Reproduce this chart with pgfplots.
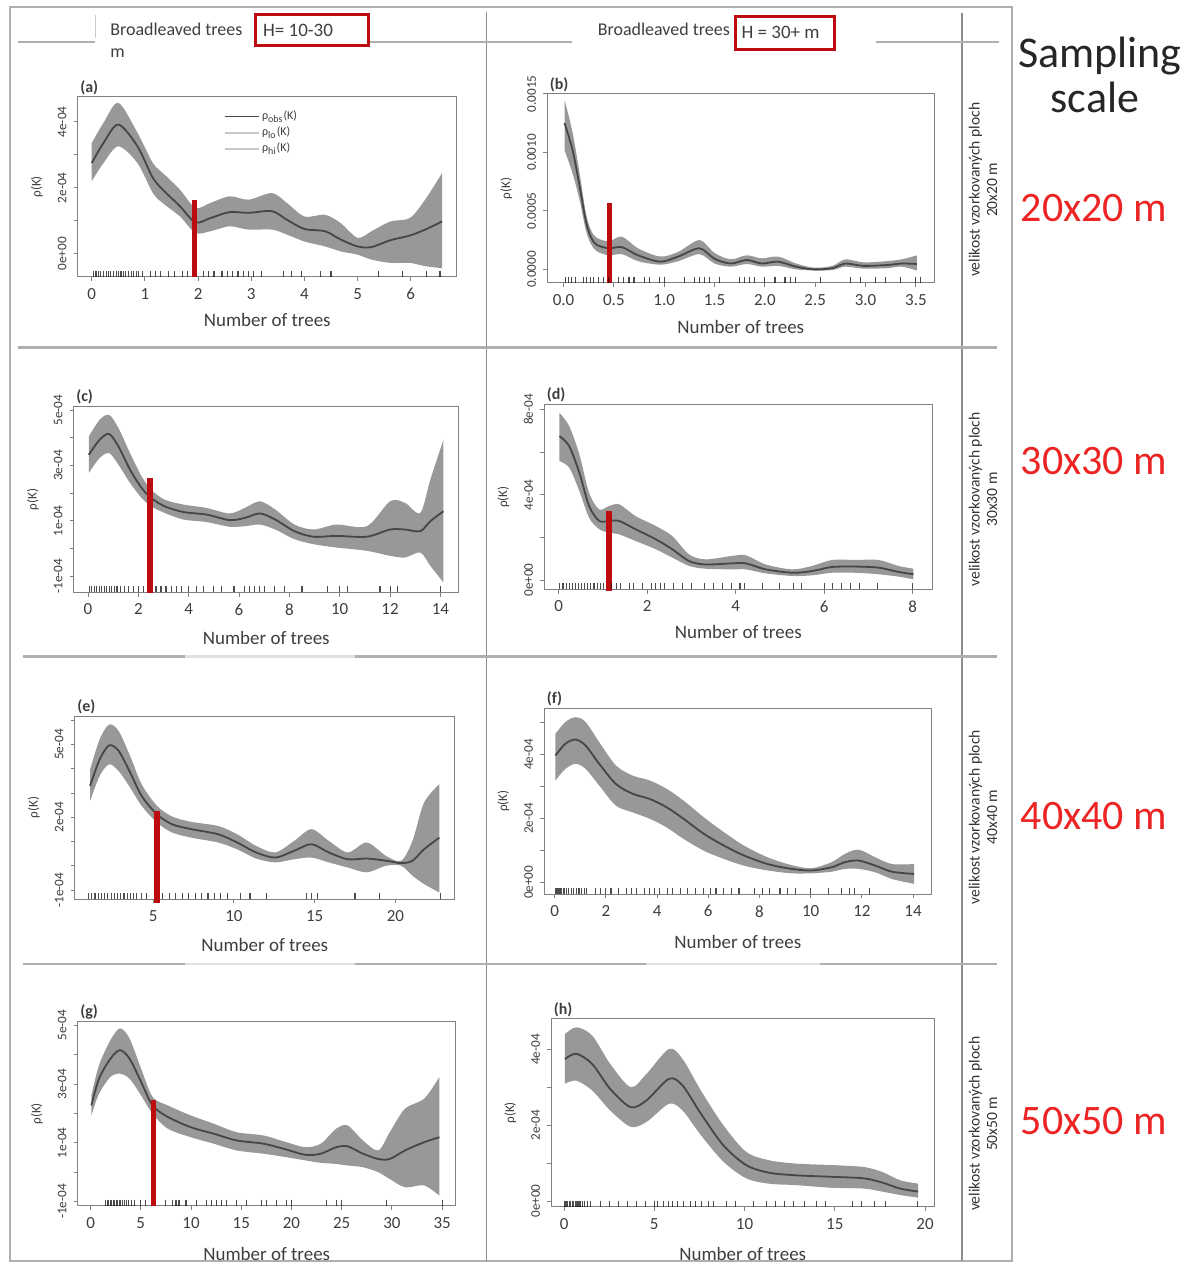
\documentclass[border=0pt]{standalone}
\usepackage{fontspec}
\setmainfont{Carlito}
\usepackage{pgfplots}
\pgfplotsset{compat=1.18}
\usepackage{pgfplotstable}
\usepgfplotslibrary{fillbetween}

\definecolor{band}{RGB}{152,152,152}
\definecolor{curve}{RGB}{70,70,70}
\definecolor{cutoff}{RGB}{188,12,16}
\definecolor{sep}{RGB}{175,175,175}
\definecolor{ink}{RGB}{62,62,62}
\definecolor{scalered}{RGB}{236,36,36}

\pgfplotsset{
  panel/.style={
    scale only axis, anchor=north west, clip=false,
    axis line style={draw=black!50, line width=0.5pt},
    tick style={draw=black!50, line width=0.45pt},
    tick align=outside, major tick length=2.2pt,
    xtick pos=bottom, ytick pos=left,
    /pgf/number format/assume math mode=true,
    xticklabel style={font=\fontsize{8.5}{9}\selectfont, text=ink},
    yticklabel style={font=\fontsize{6.6}{7}\selectfont, text=ink, rotate=90, anchor=south},
    xlabel={Number of trees}, ylabel={ρ(K)},
    xlabel style={font=\fontsize{9.5}{10}\selectfont, text=ink, anchor=center},
    ylabel style={font=\fontsize{6.6}{7}\selectfont, text=ink, anchor=center,
      at={([xshift=-20.5pt]rel axis cs:0,0.5)}},
  },
  bandfill/.style={fill=band, draw=none, forget plot},
  obs/.style={curve, line width=0.9pt, smooth, forget plot},
  edge/.style={draw=none, smooth, forget plot},
  cut/.style={cutoff, line width=2.6pt, forget plot},
  rug/.style={only marks, mark=|, mark size=1.5pt, forget plot,
    mark options={line width=0.55pt, draw=black, opacity=0.7}},
}

% panel data: x, observed, upper, lower (values in 1e-04)
\pgfplotstableread{
x c u l
0.00 2.75 3.36 2.20
0.22 3.36 3.97 2.75
0.50 3.92 4.58 3.26
0.86 3.26 3.67 2.75
1.15 2.30 2.75 1.84
1.37 1.89 2.40 1.49
1.66 1.44 1.94 1.13
1.95 0.95 1.39 0.63
2.23 1.08 1.54 0.68
2.59 1.26 1.74 0.83
2.95 1.24 1.64 0.73
3.39 1.29 1.84 0.73
3.67 1.03 1.54 0.58
4.00 0.75 1.13 0.37
4.39 0.68 1.18 0.22
4.68 0.43 0.93 0.07
5.00 0.22 0.48 -0.03
5.26 0.20 0.68 -0.18
5.62 0.41 0.98 -0.28
5.98 0.55 1.08 -0.28
6.27 0.73 1.64 -0.38
6.59 0.98 2.45 -0.44
}\tA
\pgfplotstableread{
x c u l
0.01 12.5 14.5 10.2
0.09 10.2 11.7 8.2
0.16 7.1 8.2 5.9
0.22 4.2 4.9 3.4
0.27 2.8 3.4 2.2
0.33 2.1 2.7 1.55
0.45 1.8 2.4 1.2
0.58 1.9 2.8 1.3
0.74 1.2 1.8 0.7
0.96 0.66 1.1 0.4
1.14 1.1 1.5 0.7
1.35 1.8 2.5 1.3
1.50 0.9 1.4 0.5
1.66 0.5 0.86 0.23
1.82 0.8 1.2 0.46
1.97 0.5 0.94 0.23
2.13 0.66 1.1 0.3
2.31 0.23 0.5 0.0
2.49 0.0 0.14 -0.1
2.67 0.1 0.3 -0.06
2.80 0.5 0.86 0.23
2.98 0.3 0.6 0.06
3.21 0.37 0.7 0.1
3.36 0.5 0.86 0.23
3.51 0.46 1.2 -0.1
}\tB
\pgfplotstableread{
x c u l
0.03 3.39 4.05 2.73
0.46 3.93 4.65 3.27
0.84 4.14 4.83 3.45
1.21 3.69 4.35 3.03
1.67 2.85 3.45 2.37
2.13 2.19 2.61 1.83
2.51 1.83 2.13 1.53
3.04 1.53 1.77 1.29
3.80 1.32 1.59 1.05
4.71 1.23 1.47 0.96
5.62 1.03 1.27 0.79
6.23 1.11 1.47 0.81
6.83 1.27 1.71 0.87
7.44 1.05 1.41 0.69
8.20 0.63 0.87 0.34
8.96 0.43 0.69 0.16
9.87 0.46 0.87 0.04
11.08 0.43 0.81 -0.08
12.00 0.69 1.71 -0.26
12.60 0.69 1.65 -0.32
13.20 0.63 1.29 -0.14
13.60 0.99 2.49 -0.62
14.12 1.35 3.93 -1.22
}\tC
\pgfplotstableread{
x c u l
0.02 6.75 7.84 5.58
0.24 6.28 7.22 5.27
0.47 5.03 5.89 4.17
0.69 3.47 4.09 2.92
0.92 2.77 3.31 2.38
1.14 2.77 3.47 2.22
1.37 2.77 3.55 2.14
1.74 2.38 3.00 1.83
2.20 1.91 2.53 1.44
2.57 1.44 2.06 1.05
2.95 0.89 1.20 0.66
3.32 0.73 0.97 0.53
3.92 0.78 1.13 0.50
4.23 0.78 1.16 0.50
4.68 0.50 0.73 0.31
5.28 0.34 0.50 0.19
5.73 0.42 0.66 0.22
6.18 0.61 0.94 0.34
6.71 0.63 0.94 0.34
7.23 0.58 0.94 0.27
7.68 0.38 0.66 0.16
8.02 0.27 0.53 0.03
}\tD
\pgfplotstableread{
x c u l
1.10 3.29 3.97 2.67
1.69 4.38 5.21 3.70
2.28 4.96 5.82 4.18
2.87 4.73 5.55 3.90
3.58 3.84 4.52 3.22
4.29 2.88 3.36 2.47
5.24 2.12 2.47 1.78
6.18 1.71 2.03 1.37
7.36 1.51 1.81 1.16
9.02 1.30 1.64 0.96
10.20 0.96 1.30 0.68
11.38 0.55 0.82 0.30
12.56 0.34 0.55 0.14
13.74 0.62 1.03 0.27
14.80 0.89 1.51 0.34
15.87 0.55 1.03 0.14
17.05 0.27 0.55 -0.07
18.23 0.30 0.96 -0.27
19.41 0.21 0.41 0.00
20.36 0.11 0.21 0.00
21.06 0.21 1.03 -0.41
21.77 0.68 2.60 -0.75
22.72 1.16 3.36 -1.10
}\tE
\pgfplotstableread{
x c u l
0.03 3.97 4.65 3.19
0.42 4.34 5.02 3.55
0.82 4.47 5.17 3.71
1.21 4.28 5.02 3.55
1.74 3.71 4.39 3.03
2.39 3.08 3.66 2.40
3.05 2.77 3.34 2.19
3.71 2.61 3.19 1.99
4.37 2.35 2.93 1.72
5.03 1.99 2.56 1.36
5.82 1.52 2.04 0.99
6.61 1.15 1.57 0.73
7.39 0.84 1.15 0.52
8.32 0.57 0.78 0.37
9.24 0.42 0.54 0.28
10.03 0.37 0.44 0.28
10.82 0.47 0.63 0.33
11.34 0.63 0.89 0.42
11.87 0.68 1.02 0.42
12.53 0.52 0.78 0.31
13.18 0.33 0.57 0.10
14.04 0.26 0.57 -0.05
}\tF
\pgfplotstableread{
x c u l
0.08 2.27 2.61 1.93
0.84 3.18 3.64 2.67
1.98 3.86 4.49 3.24
2.93 4.15 4.89 3.35
3.88 3.86 4.55 3.18
5.03 3.07 3.52 2.61
6.17 2.27 2.56 1.99
7.69 1.88 2.27 1.48
9.98 1.53 1.93 1.19
12.26 1.31 1.65 0.97
14.55 1.08 1.36 0.74
17.21 0.97 1.25 0.63
19.50 0.77 1.02 0.51
21.40 0.59 0.85 0.40
22.92 0.63 0.97 0.32
24.45 0.85 1.48 0.28
25.59 0.88 1.59 0.23
27.11 0.63 1.08 0.17
28.64 0.45 0.74 0.00
29.78 0.45 1.36 -0.23
31.30 0.74 2.16 -0.51
33.21 1.02 2.50 -0.45
34.73 1.19 3.24 -0.80
}\tG
\pgfplotstableread{
x c u l
0.05 3.75 4.41 3.10
0.68 3.89 4.59 3.18
1.56 3.62 4.37 2.92
2.56 2.96 3.62 2.39
3.69 2.48 3.01 1.96
4.57 2.66 3.36 2.09
5.82 3.23 4.02 2.57
6.57 3.05 3.75 2.39
7.58 2.31 2.92 1.74
8.83 1.47 2.00 1.04
10.09 0.95 1.30 0.60
11.34 0.75 1.08 0.46
12.85 0.68 0.99 0.42
14.86 0.64 0.95 0.35
16.61 0.60 0.90 0.33
17.62 0.49 0.77 0.25
18.62 0.33 0.55 0.16
19.62 0.25 0.46 0.09
}\tH

\begin{document}
\begin{tikzpicture}
\begin{scope}[x=0.5pt,y=-0.5pt]
\path[use as bounding box] (0,0) rectangle (1186,1267);
% outer frame and dividers
\draw[sep, line width=1pt] (10,7) rectangle (1013,1262);
\draw[black!45, line width=0.7pt] (487,12) -- (487,1262);
\draw[black!45, line width=0.7pt] (963,13) -- (963,1262);
\draw[sep, line width=1.4pt] (18,42) -- (95,42);
\draw[sep, line width=1.4pt] (370,42) -- (573,42);
\draw[sep, line width=1.4pt] (877,42) -- (1000,42);
\draw[black!20, line width=0.6pt] (96,15) -- (96,38);
\draw[sep, line width=1.4pt] (18,348) -- (998,348);
\draw[sep, line width=1.4pt] (23,657) -- (185,657);
\draw[black!12, line width=1.2pt] (185,657) -- (355,657);
\draw[sep, line width=1.4pt] (355,657) -- (998,657);
\draw[sep, line width=1.4pt] (23,965) -- (185,965);
\draw[black!12, line width=1.2pt] (185,965) -- (355,965);
\draw[sep, line width=1.4pt] (355,965) -- (647,965);
\draw[black!12, line width=1.2pt] (647,965) -- (821,965);
\draw[sep, line width=1.4pt] (821,965) -- (998,965);
% column headers
\node[anchor=west, font=\fontsize{9}{10}\selectfont, text=ink, inner sep=0pt] at (110,29) {Broadleaved trees};
\draw[cutoff, line width=1.5pt] (256,15) rectangle (369,46);
\node[anchor=west, font=\fontsize{9.5}{10}\selectfont, text=ink, inner sep=0pt] at (263,30) {H= 10-30};
\node[anchor=west, font=\fontsize{9}{10}\selectfont, text=ink, inner sep=0pt] at (110,53) {m};
\node[anchor=east, font=\fontsize{9}{10}\selectfont, text=ink, inner sep=0pt] at (731,29) {Broadleaved trees};
\draw[cutoff, line width=1.5pt] (736,17) rectangle (835,50);
\node[anchor=west, font=\fontsize{9.5}{10}\selectfont, text=ink, inner sep=0pt] at (742,32) {H = 30+ m};
% sampling scale labels
\node[anchor=base, font=\fontsize{22}{23}\selectfont, text=black!85, inner sep=0pt] at (1101,68) {Sampling};
\node[anchor=base, font=\fontsize{22}{23}\selectfont, text=black!85, inner sep=0pt] at (1096,113) {scale};
\foreach \yy/\lab in {222/20x20, 475/30x30, 830/40x40, 1136/50x50}{
  \node[anchor=base, font=\fontsize{21}{22}\selectfont, text=scalered, inner sep=0pt] at (1095,\yy) {\lab{} m};
  }
\foreach \yy/\lab in {190/20x20, 500/30x30, 818/40x40, 1125/50x50}{
  \node[rotate=90, align=center, font=\fontsize{7.8}{8.8}\selectfont, text=black!80, inner sep=0pt] at (984,\yy) {velikost vzorkovaných ploch\\\lab{} m};
  }
\end{scope}

% (a)
\begin{axis}[panel, at={(39pt,-48.5pt)}, width=189.5pt, height=90pt,
  xmin=-0.26, xmax=6.86, ymin=-0.70, ymax=4.76,
  xtick={0,1,2,3,4,5,6},
  ytick={0,1,2,3,4}, yticklabels={0e+00,,2e-04,,4e-04},
  xlabel style={at={([yshift=-21.5pt]rel axis cs:0.5,0)}},
  legend style={draw=none, fill=none, at={(0.37,0.96)}, anchor=north west,
    font=\fontsize{6}{6.5}\selectfont, text=ink, row sep=0.3pt,
    nodes={inner sep=1pt}},
  legend cell align=left]
\addplot[edge, name path=ua] table[x=x, y=u] {\tA};
\addplot[edge, name path=la] table[x=x, y=l] {\tA};
\addplot[bandfill] fill between[of=ua and la];
\addplot[obs] table[x=x, y=c] {\tA};
\addplot[cut] coordinates {(1.94,-0.72) (1.94,1.64)};
\addplot[rug] coordinates {
(0.03,-0.61) (0.08,-0.61) (0.12,-0.61) (0.17,-0.61) (0.22,-0.61) (0.27,-0.61)
(0.31,-0.61) (0.36,-0.61) (0.41,-0.61) (0.46,-0.61) (0.5,-0.61) (0.55,-0.61)
(0.6,-0.61) (0.64,-0.61) (0.69,-0.61) (0.74,-0.61) (0.79,-0.61) (0.84,-0.61)
(0.88,-0.61) (0.95,-0.61) (1.1,-0.61) (1.2,-0.61) (1.3,-0.61) (1.45,-0.61)
(1.55,-0.61) (1.7,-0.61) (1.8,-0.61) (2.1,-0.61) (2.2,-0.61) (2.3,-0.61)
(2.45,-0.61) (2.55,-0.61) (2.65,-0.61) (2.75,-0.61) (2.85,-0.61) (2.95,-0.61)
(3.05,-0.61) (3.2,-0.61) (3.6,-0.61) (3.75,-0.61) (3.95,-0.61) (4.3,-0.61)
(4.5,-0.61) (5.4,-0.61) (5.85,-0.61) (6.3,-0.61) (6.55,-0.61)};
\addlegendimage{curve, line width=0.8pt}
\addlegendentry{ρ\textsubscript{obs}(K)}
\addlegendimage{black!22, line width=0.8pt}
\addlegendentry{ρ\textsubscript{lo}(K)}
\addlegendimage{black!22, line width=0.8pt}
\addlegendentry{ρ\textsubscript{hi}(K)}
\node[anchor=south west, font=\fontsize{8}{9}\selectfont\bfseries, text=ink, inner sep=1pt] at (rel axis cs:0,1) {(a)};
\end{axis}

% (b)
\begin{axis}[panel, at={(274pt,-47pt)}, width=193.5pt, height=94.5pt,
  xmin=-0.16, xmax=3.68, ymin=-1.14, ymax=15,
  xtick={0,0.5,1,1.5,2,2.5,3,3.5},
  xticklabels={0.0,0.5,1.0,1.5,2.0,2.5,3.0,3.5},
  ytick={0,5,10,15}, yticklabels={0.0000,0.0005,0.0010,0.0015},
  xlabel style={at={([yshift=-22pt]rel axis cs:0.5,0)}}]
\addplot[edge, name path=ub] table[x=x, y=u] {\tB};
\addplot[edge, name path=lb] table[x=x, y=l] {\tB};
\addplot[bandfill] fill between[of=ub and lb];
\addplot[obs] table[x=x, y=c] {\tB};
\addplot[cut] coordinates {(0.46,-1.2) (0.46,5.7)};
\addplot[rug] coordinates {
(0.02,-0.88) (0.05,-0.88) (0.08,-0.88) (0.12,-0.88) (0.2,-0.88) (0.23,-0.88)
(0.27,-0.88) (0.3,-0.88) (0.35,-0.88) (0.4,-0.88) (0.45,-0.88) (0.55,-0.88)
(0.6,-0.88) (0.65,-0.88) (0.7,-0.88) (0.8,-0.88) (0.85,-0.88) (0.95,-0.88)
(1.0,-0.88) (1.2,-0.88) (1.3,-0.88) (1.35,-0.88) (1.4,-0.88) (1.45,-0.88)
(1.55,-0.88) (1.75,-0.88) (1.8,-0.88) (1.85,-0.88) (1.9,-0.88) (2.0,-0.88)
(2.1,-0.88) (2.2,-0.88) (2.25,-0.88) (2.3,-0.88) (2.55,-0.88) (2.85,-0.88)
(2.95,-0.88) (3.1,-0.88) (3.2,-0.88) (3.35,-0.88) (3.5,-0.88) (3.55,-0.88)};
\node[anchor=south west, font=\fontsize{8}{9}\selectfont\bfseries, text=ink, inner sep=1pt] at (rel axis cs:0,1) {(b)};
\end{axis}

% (c)
\begin{axis}[panel, at={(37pt,-203.5pt)}, width=192.5pt, height=93pt,
  xmin=-0.56, xmax=14.72, ymin=-1.58, ymax=5.13,
  xtick={0,2,4,6,8,10,12,14},
  ytick={-1,0,1,2,3,4,5}, yticklabels={-1e-04,,1e-04,,3e-04,,5e-04},
  xlabel style={at={([yshift=-23pt]rel axis cs:0.5,0)}}]
\addplot[edge, name path=uc] table[x=x, y=u] {\tC};
\addplot[edge, name path=lc] table[x=x, y=l] {\tC};
\addplot[bandfill] fill between[of=uc and lc];
\addplot[obs] table[x=x, y=c] {\tC};
\addplot[cut] coordinates {(2.46,-1.62) (2.46,2.55)};
\addplot[rug] coordinates {
(0.05,-1.47) (0.15,-1.47) (0.25,-1.47) (0.35,-1.47) (0.45,-1.47) (0.55,-1.47)
(0.65,-1.47) (0.75,-1.47) (0.85,-1.47) (0.95,-1.47) (1.05,-1.47) (1.15,-1.47)
(1.3,-1.47) (1.45,-1.47) (1.6,-1.47) (1.8,-1.47) (2.0,-1.47) (2.2,-1.47)
(2.7,-1.47) (2.9,-1.47) (3.1,-1.47) (3.3,-1.47) (3.5,-1.47) (3.7,-1.47)
(4.0,-1.47) (4.3,-1.47) (4.6,-1.47) (5.0,-1.47) (5.3,-1.47) (5.8,-1.47)
(6.2,-1.47) (6.4,-1.47) (6.6,-1.47) (6.8,-1.47) (7.0,-1.47) (7.4,-1.47)
(7.8,-1.47) (8.5,-1.47) (9.5,-1.47) (10.0,-1.47) (10.3,-1.47) (11.6,-1.47)
(12.0,-1.47) (12.3,-1.47) (14.0,-1.47)};
\node[anchor=south west, font=\fontsize{8}{9}\selectfont\bfseries, text=ink, inner sep=1pt] at (rel axis cs:0,1) {(c)};
\end{axis}

% (d)
\begin{axis}[panel, at={(272.5pt,-202.5pt)}, width=194pt, height=92.5pt,
  xmin=-0.32, xmax=8.44, ymin=-0.44, ymax=8.23,
  xtick={0,2,4,6,8},
  ytick={0,2,4,6,8}, yticklabels={0e+00,,4e-04,,8e-04},
  xlabel style={at={([yshift=-21.5pt]rel axis cs:0.5,0)}}]
\addplot[edge, name path=ud] table[x=x, y=u] {\tD};
\addplot[edge, name path=ld] table[x=x, y=l] {\tD};
\addplot[bandfill] fill between[of=ud and ld];
\addplot[obs] table[x=x, y=c] {\tD};
\addplot[cut] coordinates {(1.14,-0.5) (1.14,3.23)};
\addplot[rug] coordinates {
(0.03,-0.3) (0.1,-0.3) (0.17,-0.3) (0.24,-0.3) (0.31,-0.3) (0.38,-0.3)
(0.45,-0.3) (0.52,-0.3) (0.59,-0.3) (0.66,-0.3) (0.73,-0.3) (0.8,-0.3)
(0.87,-0.3) (0.94,-0.3) (1.01,-0.3) (1.2,-0.3) (1.3,-0.3) (1.4,-0.3)
(1.6,-0.3) (1.7,-0.3) (1.9,-0.3) (2.1,-0.3) (2.2,-0.3) (2.3,-0.3)
(2.4,-0.3) (2.6,-0.3) (2.8,-0.3) (3.0,-0.3) (3.3,-0.3) (3.5,-0.3)
(3.7,-0.3) (3.9,-0.3) (4.1,-0.3) (4.2,-0.3) (4.6,-0.3) (5.0,-0.3)
(5.3,-0.3) (5.5,-0.3) (6.0,-0.3) (6.2,-0.3) (6.4,-0.3) (6.6,-0.3)
(6.8,-0.3) (7.2,-0.3) (8.0,-0.3)};
\node[anchor=south west, font=\fontsize{8}{9}\selectfont\bfseries, text=ink, inner sep=1pt] at (rel axis cs:0,1) {(d)};
\end{axis}

% (e)
\begin{axis}[panel, at={(37.5pt,-358.5pt)}, width=190pt, height=91.5pt,
  xmin=0.16, xmax=23.66, ymin=-1.37, ymax=6.16,
  xtick={5,10,15,20},
  ytick={-1,0,1,2,3,4,5,6}, yticklabels={-1e-04,,,2e-04,,,5e-04,},
  xlabel style={at={([yshift=-23pt]rel axis cs:0.5,0)}}]
\addplot[edge, name path=ue] table[x=x, y=u] {\tE};
\addplot[edge, name path=le] table[x=x, y=l] {\tE};
\addplot[bandfill] fill between[of=ue and le];
\addplot[obs] table[x=x, y=c] {\tE};
\addplot[cut] coordinates {(5.24,-1.55) (5.24,2.26)};
\addplot[rug] coordinates {
(1.0,-1.25) (1.2,-1.25) (1.4,-1.25) (1.6,-1.25) (1.8,-1.25) (2.0,-1.25)
(2.2,-1.25) (2.4,-1.25) (2.6,-1.25) (2.8,-1.25) (3.0,-1.25) (3.2,-1.25)
(3.4,-1.25) (3.6,-1.25) (3.8,-1.25) (4.0,-1.25) (4.3,-1.25) (4.6,-1.25)
(5.6,-1.25) (6.0,-1.25) (6.4,-1.25) (6.8,-1.25) (7.2,-1.25) (7.6,-1.25)
(8.0,-1.25) (8.4,-1.25) (8.8,-1.25) (9.2,-1.25) (9.6,-1.25) (10.4,-1.25)
(11.0,-1.25) (12.0,-1.25) (14.5,-1.25) (14.8,-1.25) (15.2,-1.25) (17.5,-1.25)
(19.0,-1.25) (22.8,-1.25)};
\node[anchor=south west, font=\fontsize{8}{9}\selectfont\bfseries, text=ink, inner sep=1pt] at (rel axis cs:0,1) {(e)};
\end{axis}

% (f)
\begin{axis}[panel, at={(272.5pt,-354.5pt)}, width=193.5pt, height=93pt,
  xmin=-0.4, xmax=14.7, ymin=-0.37, ymax=5.45,
  xtick={0,2,4,6,8,10,12,14},
  ytick={0,1,2,3,4,5}, yticklabels={0e+00,,2e-04,,4e-04,},
  xlabel style={at={([yshift=-24pt]rel axis cs:0.5,0)}}]
\addplot[edge, name path=uf] table[x=x, y=u] {\tF};
\addplot[edge, name path=lf] table[x=x, y=l] {\tF};
\addplot[bandfill] fill between[of=uf and lf];
\addplot[obs] table[x=x, y=c] {\tF};
\addplot[rug] coordinates {
(0.03,-0.28) (0.08,-0.28) (0.13,-0.28) (0.18,-0.28) (0.23,-0.28) (0.28,-0.28)
(0.33,-0.28) (0.38,-0.28) (0.45,-0.28) (0.55,-0.28) (0.65,-0.28) (0.75,-0.28)
(0.85,-0.28) (0.95,-0.28) (1.05,-0.28) (1.15,-0.28) (1.25,-0.28) (1.6,-0.28)
(1.8,-0.28) (2.0,-0.28) (2.2,-0.28) (2.5,-0.28) (2.8,-0.28) (3.0,-0.28)
(3.2,-0.28) (3.5,-0.28) (3.7,-0.28) (3.9,-0.28) (4.1,-0.28) (4.4,-0.28)
(4.6,-0.28) (4.9,-0.28) (5.2,-0.28) (5.5,-0.28) (5.8,-0.28) (6.1,-0.28)
(6.3,-0.28) (6.6,-0.28) (6.9,-0.28) (7.2,-0.28) (7.8,-0.28) (8.1,-0.28)
(8.4,-0.28) (8.8,-0.28) (9.1,-0.28) (9.4,-0.28) (10.0,-0.28) (10.7,-0.28)
(11.2,-0.28) (11.5,-0.28) (11.7,-0.28) (12.3,-0.28)};
\node[anchor=south west, font=\fontsize{8}{9}\selectfont\bfseries, text=ink, inner sep=1pt] at (rel axis cs:0,1) {(f)};
\end{axis}

% (g)
\begin{axis}[panel, at={(39pt,-511.5pt)}, width=189pt, height=92pt,
  xmin=-1.26, xmax=36.33, ymin=-1.14, ymax=5.11,
  xtick={0,5,10,15,20,25,30,35},
  ytick={-1,0,1,2,3,4,5}, yticklabels={-1e-04,,1e-04,,3e-04,,5e-04},
  xlabel style={at={([yshift=-24pt]rel axis cs:0.5,0)}}]
\addplot[edge, name path=ug] table[x=x, y=u] {\tG};
\addplot[edge, name path=lg] table[x=x, y=l] {\tG};
\addplot[bandfill] fill between[of=ug and lg];
\addplot[obs] table[x=x, y=c] {\tG};
\addplot[cut] coordinates {(6.28,-1.16) (6.28,2.44)};
\addplot[rug] coordinates {
(1.5,-1.04) (1.65,-1.04) (1.8,-1.04) (1.95,-1.04) (2.1,-1.04) (2.25,-1.04)
(2.4,-1.04) (2.55,-1.04) (2.7,-1.04) (2.85,-1.04) (3.0,-1.04) (3.2,-1.04)
(3.4,-1.04) (3.6,-1.04) (3.8,-1.04) (4.1,-1.04) (4.4,-1.04) (5.0,-1.04)
(5.5,-1.04) (7.5,-1.04) (8.2,-1.04) (8.5,-1.04) (8.8,-1.04) (9.5,-1.04)
(10.5,-1.04) (11.5,-1.04) (12.0,-1.04) (12.5,-1.04) (13.0,-1.04) (13.5,-1.04)
(14.5,-1.04) (15.5,-1.04) (17.0,-1.04) (17.5,-1.04) (18.5,-1.04) (19.5,-1.04)
(20.0,-1.04) (23.5,-1.04) (24.5,-1.04) (25.0,-1.04) (29.5,-1.04) (35.0,-1.04)};
\node[anchor=south west, font=\fontsize{8}{9}\selectfont\bfseries, text=ink, inner sep=1pt] at (rel axis cs:0,1) {(g)};
\end{axis}

% (h)
\begin{axis}[panel, at={(276pt,-510pt)}, width=191.5pt, height=94pt,
  xmin=-0.70, xmax=20.5, ymin=-0.15, ymax=4.81,
  xtick={0,5,10,15,20},
  ytick={0,1,2,3,4}, yticklabels={0e+00,,2e-04,,4e-04},
  xlabel style={at={([yshift=-23.5pt]rel axis cs:0.5,0)}}]
\addplot[edge, name path=uh] table[x=x, y=u] {\tH};
\addplot[edge, name path=lh] table[x=x, y=l] {\tH};
\addplot[bandfill] fill between[of=uh and lh];
\addplot[obs] table[x=x, y=c] {\tH};
\addplot[rug] coordinates {
(0.05,-0.07) (0.13,-0.07) (0.21,-0.07) (0.29,-0.07) (0.37,-0.07) (0.45,-0.07)
(0.53,-0.07) (0.61,-0.07) (0.69,-0.07) (0.77,-0.07) (0.85,-0.07) (0.93,-0.07)
(1.01,-0.07) (1.15,-0.07) (1.3,-0.07) (1.45,-0.07) (2.0,-0.07) (2.5,-0.07)
(3.0,-0.07) (3.5,-0.07) (4.0,-0.07) (4.5,-0.07) (5.0,-0.07) (5.2,-0.07)
(5.5,-0.07) (5.8,-0.07) (6.0,-0.07) (6.3,-0.07) (6.6,-0.07) (7.0,-0.07)
(7.3,-0.07) (7.6,-0.07) (8.0,-0.07) (8.3,-0.07) (9.0,-0.07) (9.5,-0.07)
(10.5,-0.07) (11.2,-0.07) (11.7,-0.07) (12.2,-0.07) (12.7,-0.07) (13.3,-0.07)
(14.0,-0.07) (14.5,-0.07) (16.0,-0.07) (16.5,-0.07) (17.2,-0.07) (17.8,-0.07)
(19.6,-0.07)};
\node[anchor=south west, font=\fontsize{8}{9}\selectfont\bfseries, text=ink, inner sep=1pt] at (rel axis cs:0,1) {(h)};
\end{axis}
\end{tikzpicture}
\end{document}
